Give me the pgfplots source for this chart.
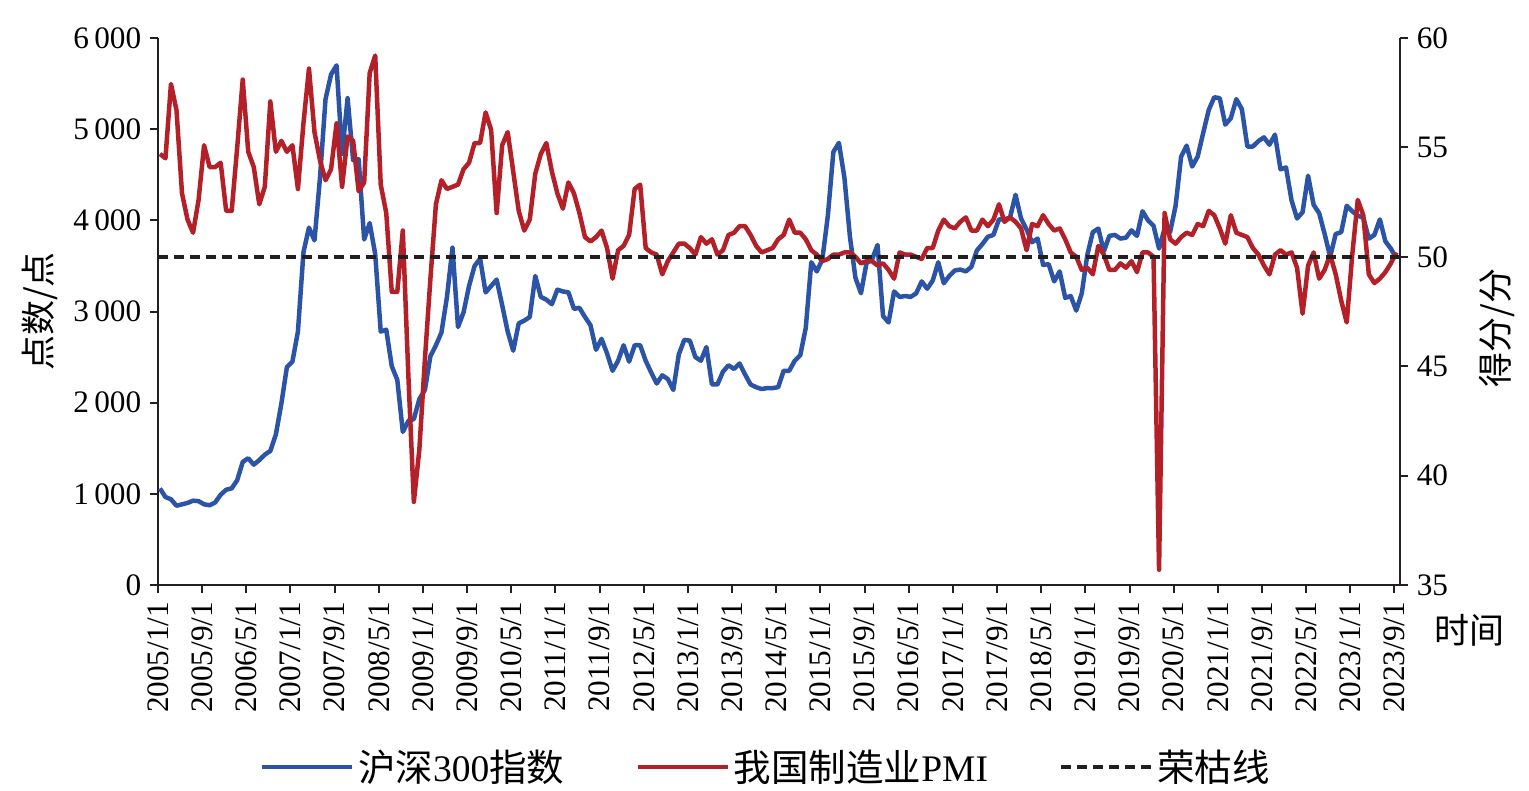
\documentclass[border=0pt]{standalone}
\usepackage{fontspec}
\setmainfont{Liberation Serif}
\newfontfamily\cjk{Noto Sans CJK SC}
\usepackage{pgfplots}
\usepackage{pgfplotstable}
\pgfplotsset{compat=1.18}
\definecolor{csiblue}{HTML}{2C54A6}
\definecolor{pmired}{HTML}{B42028}
\definecolor{axisgray}{HTML}{231F20}

\newcommand{\ticksize}{\fontsize{12.5}{13}\selectfont}
\newcommand{\labsize}{\fontsize{14}{16}\selectfont}
\newcommand{\legsize}{\fontsize{15}{17}\selectfont}

% CSI 300, one value per month, 2005/1 .. 2023/9
\pgfplotstableread[row sep=\\]{
v\\
1059\\ 965\\ 940\\ 870\\ 885\\ 900\\ 925\\ 920\\ 885\\ 875\\ 905\\ 990\\
1045\\ 1060\\ 1150\\ 1350\\ 1390\\ 1320\\ 1370\\ 1430\\ 1470\\ 1650\\ 1990\\ 2390\\
2450\\ 2780\\ 3650\\ 3920\\ 3780\\ 4470\\ 5330\\ 5600\\ 5700\\ 4730\\ 5340\\ 4660\\
4670\\ 3790\\ 3970\\ 3630\\ 2780\\ 2800\\ 2400\\ 2250\\ 1680\\ 1800\\ 1820\\ 2040\\
2140\\ 2510\\ 2630\\ 2770\\ 3160\\ 3700\\ 2830\\ 2990\\ 3280\\ 3500\\ 3580\\ 3210\\
3280\\ 3350\\ 3070\\ 2780\\ 2570\\ 2870\\ 2900\\ 2940\\ 3390\\ 3160\\ 3130\\ 3080\\
3240\\ 3220\\ 3210\\ 3030\\ 3040\\ 2940\\ 2850\\ 2580\\ 2700\\ 2540\\ 2350\\ 2460\\
2630\\ 2450\\ 2630\\ 2630\\ 2460\\ 2330\\ 2210\\ 2300\\ 2260\\ 2140\\ 2530\\ 2690\\
2680\\ 2500\\ 2460\\ 2610\\ 2200\\ 2200\\ 2340\\ 2410\\ 2370\\ 2430\\ 2310\\ 2200\\
2170\\ 2150\\ 2160\\ 2160\\ 2170\\ 2350\\ 2350\\ 2460\\ 2520\\ 2820\\ 3540\\ 3440\\
3570\\ 4050\\ 4750\\ 4850\\ 4470\\ 3820\\ 3370\\ 3200\\ 3530\\ 3570\\ 3730\\ 2950\\
2880\\ 3220\\ 3160\\ 3170\\ 3160\\ 3200\\ 3330\\ 3250\\ 3340\\ 3540\\ 3310\\ 3390\\
3450\\ 3460\\ 3440\\ 3490\\ 3670\\ 3740\\ 3820\\ 3840\\ 4010\\ 4010\\ 4030\\ 4280\\
4020\\ 3900\\ 3760\\ 3800\\ 3510\\ 3520\\ 3330\\ 3440\\ 3150\\ 3170\\ 3010\\ 3200\\
3620\\ 3870\\ 3910\\ 3660\\ 3830\\ 3840\\ 3800\\ 3810\\ 3890\\ 3830\\ 4100\\ 4000\\
3940\\ 3690\\ 3910\\ 3870\\ 4160\\ 4700\\ 4820\\ 4590\\ 4700\\ 4960\\ 5210\\ 5350\\
5340\\ 5050\\ 5120\\ 5330\\ 5220\\ 4810\\ 4810\\ 4870\\ 4910\\ 4830\\ 4940\\ 4560\\
4580\\ 4220\\ 4020\\ 4090\\ 4490\\ 4170\\ 4080\\ 3850\\ 3600\\ 3850\\ 3870\\ 4160\\
4100\\ 4050\\ 4030\\ 3800\\ 3840\\ 4010\\ 3770\\ 3690\\ 3580\\
}\csi

% manufacturing PMI, same months
\pgfplotstableread[row sep=\\]{
v\\
54.7\\ 54.5\\ 57.9\\ 56.7\\ 52.9\\ 51.7\\ 51.1\\ 52.6\\ 55.1\\ 54.1\\ 54.1\\ 54.3\\
52.1\\ 52.1\\ 55.0\\ 58.1\\ 54.8\\ 54.1\\ 52.4\\ 53.2\\ 57.1\\ 54.8\\ 55.3\\ 54.8\\
55.1\\ 53.1\\ 56.1\\ 58.6\\ 55.7\\ 54.4\\ 53.5\\ 54.0\\ 56.1\\ 53.2\\ 55.5\\ 55.3\\
53.0\\ 53.4\\ 58.4\\ 59.2\\ 53.3\\ 52.0\\ 48.4\\ 48.4\\ 51.2\\ 44.6\\ 38.8\\ 41.2\\
45.3\\ 49.0\\ 52.4\\ 53.5\\ 53.1\\ 53.2\\ 53.3\\ 54.0\\ 54.3\\ 55.2\\ 55.2\\ 56.6\\
55.8\\ 52.0\\ 55.1\\ 55.7\\ 53.9\\ 52.1\\ 51.2\\ 51.7\\ 53.8\\ 54.7\\ 55.2\\ 53.9\\
52.9\\ 52.2\\ 53.4\\ 52.9\\ 52.0\\ 50.9\\ 50.7\\ 50.9\\ 51.2\\ 50.4\\ 49.0\\ 50.3\\
50.5\\ 51.0\\ 53.1\\ 53.3\\ 50.4\\ 50.2\\ 50.1\\ 49.2\\ 49.8\\ 50.2\\ 50.6\\ 50.6\\
50.4\\ 50.1\\ 50.9\\ 50.6\\ 50.8\\ 50.1\\ 50.3\\ 51.0\\ 51.1\\ 51.4\\ 51.4\\ 51.0\\
50.5\\ 50.2\\ 50.3\\ 50.4\\ 50.8\\ 51.0\\ 51.7\\ 51.1\\ 51.1\\ 50.8\\ 50.3\\ 50.1\\
49.8\\ 49.9\\ 50.1\\ 50.1\\ 50.2\\ 50.2\\ 50.0\\ 49.7\\ 49.8\\ 49.8\\ 49.6\\ 49.7\\
49.4\\ 49.0\\ 50.2\\ 50.1\\ 50.1\\ 50.0\\ 49.9\\ 50.4\\ 50.4\\ 51.2\\ 51.7\\ 51.4\\
51.3\\ 51.6\\ 51.8\\ 51.2\\ 51.2\\ 51.7\\ 51.4\\ 51.7\\ 52.4\\ 51.6\\ 51.8\\ 51.6\\
51.3\\ 50.3\\ 51.5\\ 51.4\\ 51.9\\ 51.5\\ 51.2\\ 51.3\\ 50.8\\ 50.2\\ 50.0\\ 49.4\\
49.5\\ 49.2\\ 50.5\\ 50.1\\ 49.4\\ 49.4\\ 49.7\\ 49.5\\ 49.8\\ 49.3\\ 50.2\\ 50.2\\
50.0\\ 35.7\\ 52.0\\ 50.8\\ 50.6\\ 50.9\\ 51.1\\ 51.0\\ 51.5\\ 51.4\\ 52.1\\ 51.9\\
51.3\\ 50.6\\ 51.9\\ 51.1\\ 51.0\\ 50.9\\ 50.4\\ 50.1\\ 49.6\\ 49.2\\ 50.1\\ 50.3\\
50.1\\ 50.2\\ 49.5\\ 47.4\\ 49.6\\ 50.2\\ 49.0\\ 49.4\\ 50.1\\ 49.2\\ 48.0\\ 47.0\\
50.1\\ 52.6\\ 51.9\\ 49.2\\ 48.8\\ 49.0\\ 49.3\\ 49.7\\ 50.2\\
}\pmi

\begin{document}
\begin{tikzpicture}
\path[use as bounding box] (-63.2pt,-82.4pt) rectangle (548.4pt,234pt);
\pgfplotsset{
  every axis/.append style={
    scale only axis, width=496.8pt, height=218.8pt,
    xmin=0, xmax=225,
    tick align=outside, major tick length=3.2pt,
    axis line style={line width=0.8pt, draw=axisgray},
    tick style={line width=0.8pt, draw=axisgray},
    tick label style={font=\ticksize},
  },
}
\begin{axis}[
  axis y line*=left, axis x line*=bottom,
  ymin=0, ymax=6000,
  xtick={0,8,...,224},
  xticklabels={2005/1/1,2005/9/1,2006/5/1,2007/1/1,2007/9/1,2008/5/1,2009/1/1,
    2009/9/1,2010/5/1,2011/1/1,2011/9/1,2012/5/1,2013/1/1,2013/9/1,2014/5/1,
    2015/1/1,2015/9/1,2016/5/1,2017/1/1,2017/9/1,2018/5/1,2019/1/1,2019/9/1,
    2020/5/1,2021/1/1,2021/9/1,2022/5/1,2023/1/1,2023/9/1},
  xticklabel style={rotate=90, anchor=east},
  ytick={0,1000,...,6000},
  yticklabels={0,1\,000,2\,000,3\,000,4\,000,5\,000,6\,000},
  ylabel={\cjk 点数/点},
  ylabel style={font=\labsize, at={(axis description cs:-0.095,0.5)}, anchor=center},
  xlabel={\cjk 时间},
  xlabel style={font=\labsize, at={(axis description cs:1.056,0)}, anchor=center, yshift=-18pt},
]
\addplot[csiblue, line width=1.8pt, line join=round] table[x expr=\coordindex+0.35, y=v] {\csi};
\end{axis}

\begin{axis}[
  axis y line*=right, axis x line=none,
  ymin=35, ymax=60,
  ytick={35,40,...,60},
  yticklabels={35,40,45,50,55,60},
  ylabel={\cjk 得分/分},
  ylabel style={font=\labsize, at={(axis description cs:1.078,0.47)}, anchor=center},
  legend columns=3,
  legend style={draw=none, fill=none, at={(0.49,-0.333)}, anchor=center,
    font=\legsize, nodes={inner xsep=1.5pt},
    /tikz/every even column/.append style={column sep=27pt}},
  legend image code/.code={\draw[#1] (0pt,0pt) -- (36pt,0pt);},
]
\addlegendimage{csiblue, line width=1.8pt}
\addlegendentry{{\cjk 沪深}300{\cjk 指数}}
\addplot[pmired, line width=1.8pt, line join=round] table[x expr=\coordindex+0.35, y=v] {\pmi};
\addlegendentry{{\cjk 我国制造业}PMI}
\addplot[axisgray, line width=1.6pt, dash pattern=on 4pt off 2.4pt] coordinates {(0,50) (225,50)};
\addlegendentry{{\cjk 荣枯线}}
\end{axis}
\end{tikzpicture}
\end{document}
